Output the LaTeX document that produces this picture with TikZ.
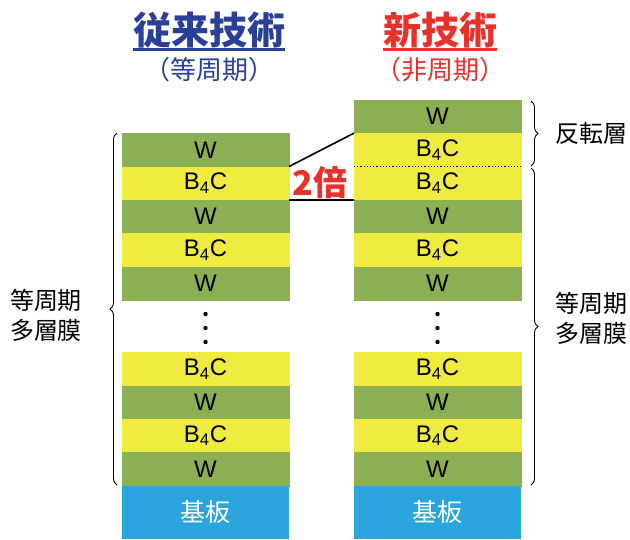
\documentclass[tikz,border=0pt]{standalone}
\usepackage{fontspec}
\setmainfont{Liberation Sans}
\newfontfamily\jp{Noto Sans CJK JP}
\usetikzlibrary{decorations.pathreplacing}

\definecolor{wgreen}{HTML}{8CAF54}
\definecolor{byellow}{HTML}{EFEB3F}
\definecolor{subblue}{HTML}{2AA5DE}
\definecolor{oldblue}{HTML}{2A3F97}
\definecolor{newred}{HTML}{E8312B}

\begin{document}
\begin{tikzpicture}[
    x=1pt, y=-1pt,
    lay/.style={inner sep=0pt, minimum width=167pt, minimum height=33.4pt, font=\fontsize{24}{24}\selectfont},
    wlay/.style={lay, fill=wgreen, draw=wgreen, line width=0.1pt},
    blay/.style={lay, fill=byellow, draw=byellow, line width=0.1pt},
    sub/.style={inner sep=0pt, minimum width=167pt, minimum height=53.2pt, fill=subblue, text=white, font=\jp\fontsize{25}{25}\selectfont},
    ttl/.style={inner sep=0pt, font=\jp\bfseries\fontsize{38}{38}\selectfont},
    subttl/.style={inner sep=0pt, font=\jp\fontsize{26}{26}\selectfont},
    lbl/.style={align=center, inner sep=0pt, font=\jp\fontsize{24}{30}\selectfont},
    brc/.style={decorate, decoration={brace, amplitude=7pt}, line width=0.9pt},
    link/.style={line width=1.6pt}
]
\useasboundingbox (0,0) rectangle (630,539);

% 従来技術 (左)
\node[ttl, text=oldblue] (t1) at (209,30) {従来技術};
\node[subttl, text=oldblue] (s1) at (209,70) {（等周期）};
\draw[oldblue, line width=2.8pt] ([yshift=-1.5pt]t1.south west) -- ([yshift=-1.5pt]t1.south east);

\node[wlay] (lw1) at (205.5,149.9) {W};
\node[blay] (lb1) at (205.5,183.3) {B\textsubscript{4}C};
\node[wlay] (lw2) at (205.5,216.7) {W};
\node[blay] (lb2) at (205.5,250.1) {B\textsubscript{4}C};
\node[wlay] (lw3) at (205.5,283.5) {W};
\node[blay] (lb3) at (205.5,368.9) {B\textsubscript{4}C};
\node[wlay] (lw4) at (205.5,402.3) {W};
\node[blay] (lb4) at (205.5,435.7) {B\textsubscript{4}C};
\node[wlay] (lw5) at (205.5,469.1) {W};
\node[sub] (ls) at (205.5,512.4) {基板};

% 新技術 (右)
\node[ttl, text=newred] (t2) at (440,30) {新技術};
\node[subttl, text=newred] (s2) at (440,70) {（非周期）};
\draw[newred, line width=2.8pt] ([yshift=-1.5pt]t2.south west) -- ([yshift=-1.5pt]t2.south east);

\node[wlay] (rw0) at (437.5,116.5) {W};
\node[blay] (rb0) at (437.5,149.9) {B\textsubscript{4}C};
\node[blay] (rb1) at (437.5,183.3) {B\textsubscript{4}C};
\node[wlay] (rw2) at (437.5,216.7) {W};
\node[blay] (rb2) at (437.5,250.1) {B\textsubscript{4}C};
\node[wlay] (rw3) at (437.5,283.5) {W};
\node[blay] (rb3) at (437.5,368.9) {B\textsubscript{4}C};
\node[wlay] (rw4) at (437.5,402.3) {W};
\node[blay] (rb4) at (437.5,435.7) {B\textsubscript{4}C};
\node[wlay] (rw5) at (437.5,469.1) {W};
\node[sub] (rs) at (437.5,512.4) {基板};

% 省略の点
\foreach \yy in {314,328,342} {
  \fill (205.5,\yy) circle (2.2pt);
  \fill (437.5,\yy) circle (2.2pt);
}

% 反転層の境界
\draw[dotted, line width=1.2pt] (rb0.south west) -- (rb0.south east);

% 2倍
\draw[link] (lb1.north east) -- (rb0.north west);
\draw[link] (lb1.south east) -- (rb1.south west);
\node[text=newred, inner sep=0pt, font=\jp\bfseries\fontsize{34}{34}\selectfont] (x2) at (320,183) {2倍};

% 括弧とラベル
\coordinate (lbt) at (117,133);
\coordinate (lbb) at (117,485);
\draw[brc] (lbb) -- (lbt);
\node[lbl] (lml) at (46,315) {等周期\\多層膜};

\coordinate (rut) at (531,101);
\coordinate (rub) at (531,166);
\draw[brc] (rut) -- (rub);
\node[lbl] (rinv) at (591,133) {反転層};

\coordinate (rlt) at (531,168);
\coordinate (rlb) at (531,485);
\draw[brc] (rlt) -- (rlb);
\node[lbl] (rml) at (591,318) {等周期\\多層膜};
\end{tikzpicture}
\end{document}
